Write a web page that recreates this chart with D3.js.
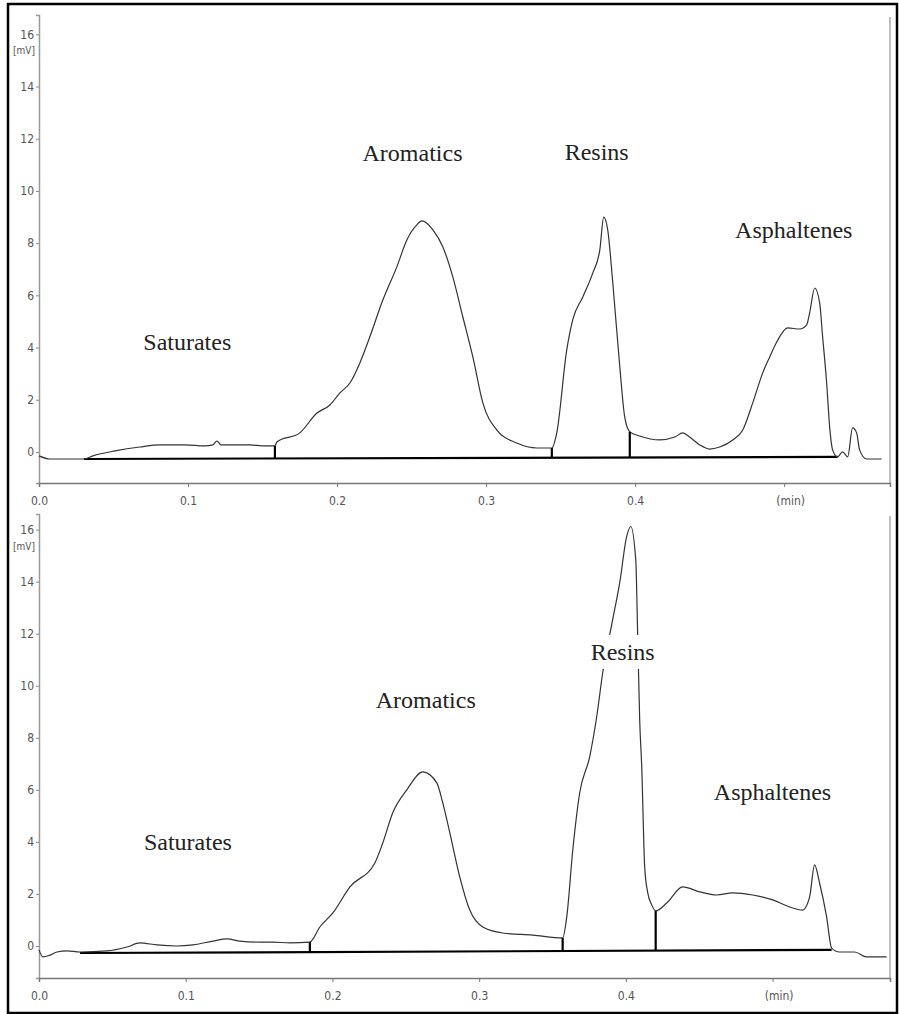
<!DOCTYPE html>
<html>
<head>
<meta charset="utf-8">
<script src="https://cdn.jsdelivr.net/npm/d3@7/dist/d3.min.js"></script>
<style>
  html, body { margin: 0; padding: 0; background: #fff; }
  svg { display: block; }
  .tick text { font-family: "Liberation Sans Narrow", "DejaVu Sans Condensed", "Liberation Sans", sans-serif; font-stretch: condensed; fill: #555; }
</style>
</head>
<body>
<svg id="chart" width="899" height="1014"></svg>
<script>
// ---------- DATA ----------
// Top chromatogram (time in min, signal in mV)
const topTime = [0.000,0.0074,0.0302,0.0362,0.0510,0.0677,0.0812,0.0979,0.1113,0.1167,0.1194,0.1221,0.1348,0.1415,0.1516,0.1583,0.1596,0.1750,0.1865,0.1952,0.2019,0.2086,0.2153,0.2220,0.2307,0.2401,0.2468,0.2535,0.2569,0.2643,0.2710,0.2777,0.2844,0.2911,0.2978,0.3072,0.3206,0.3340,0.3441,0.3474,0.3541,0.3581,0.3649,0.3716,0.3763,0.3789,0.3816,0.3850,0.3897,0.3930,0.3964,0.4031,0.4165,0.4266,0.4319,0.4366,0.4433,0.4500,0.4567,0.4655,0.4722,0.4789,0.4856,0.4903,0.4950,0.5023,0.5104,0.5151,0.5171,0.5205,0.5238,0.5258,0.5285,0.5305,0.5325,0.5358,0.5392,0.5426,0.5459,0.5486,0.5506,0.5553,0.5654];
const topSignal = [-0.15,-0.27,-0.27,-0.15,0.04,0.19,0.27,0.27,0.23,0.27,0.42,0.27,0.27,0.27,0.23,0.23,0.38,0.73,1.49,1.80,2.26,2.64,3.41,4.41,5.82,7.09,8.12,8.70,8.85,8.51,7.85,6.70,5.17,3.64,1.88,0.84,0.34,0.15,0.15,0.73,3.91,5.06,5.94,6.86,7.74,9.00,8.51,6.48,3.26,1.34,0.77,0.61,0.46,0.57,0.73,0.57,0.27,0.11,0.19,0.46,0.84,1.88,3.03,3.64,4.21,4.75,4.71,4.87,5.33,6.28,5.71,4.41,2.64,0.96,0.08,-0.19,0.00,-0.19,0.92,0.73,0.08,-0.27,-0.27];
const topBaseline = { start: 0.0302, end: 0.5358, startVal: -0.27, endVal: -0.19 };
const topDividers = [0.1583, 0.3441, 0.3964];
const topLabels = ["Saturates", "Aromatics", "Resins", "Asphaltenes"];
const topLabelTime = [0.0995, 0.2506, 0.3742, 0.5064];
const topLabelVal = [4.20, 11.45, 11.50, 8.50];

// Bottom chromatogram
const botTime = [0.0000,0.0027,0.0075,0.0123,0.0191,0.0279,0.0463,0.0599,0.0688,0.0804,0.0940,0.1049,0.1185,0.1281,0.1369,0.1505,0.1594,0.1710,0.1846,0.1914,0.2003,0.2119,0.2289,0.2343,0.2411,0.2507,0.2616,0.2711,0.2752,0.2800,0.2868,0.2936,0.3025,0.3161,0.3365,0.3569,0.3597,0.3638,0.3685,0.3753,0.3801,0.3842,0.3910,0.3958,0.4005,0.4033,0.4067,0.4081,0.4094,0.4108,0.4128,0.4149,0.4176,0.4203,0.4278,0.4387,0.4503,0.4619,0.4728,0.4864,0.5000,0.5116,0.5204,0.5252,0.5286,0.5320,0.5368,0.5402,0.5456,0.5559,0.5640,0.5777];
const botSignal = [-0.15,-0.42,-0.35,-0.23,-0.19,-0.23,-0.19,-0.04,0.12,0.04,0.00,0.04,0.19,0.27,0.19,0.15,0.15,0.12,0.15,0.73,1.27,2.27,3.19,3.96,5.12,6.00,6.69,6.27,5.50,4.35,2.65,1.38,0.73,0.50,0.42,0.31,1.12,3.69,5.88,7.27,8.81,10.50,12.54,13.96,15.73,16.12,14.85,11.77,8.69,6.88,3.04,2.04,1.58,1.35,1.65,2.27,2.08,1.96,2.04,1.96,1.77,1.50,1.38,1.88,3.12,2.42,1.12,-0.08,-0.23,-0.23,-0.42,-0.42];
const botBaseline = { start: 0.0279, end: 0.5402, startVal: -0.27, endVal: -0.15 };
const botDividers = [0.1846, 0.3569, 0.4203];
const botLabels = ["Saturates", "Aromatics", "Resins", "Asphaltenes"];
const botLabelTime = [0.1015, 0.2636, 0.3978, 0.4999];
const botLabelVal = [4.00, 9.45, 11.30, 5.90];

const yTicks = [0, 2, 4, 6, 8, 10, 12, 14, 16];
const xTicks = [0.0, 0.1, 0.2, 0.3, 0.4, 0.5];
const xTickLabels = ["0.0", "0.1", "0.2", "0.3", "0.4", "(min)"];
const yUnit = "[mV]";

// ---------- DRAW ----------
const svg = d3.select("#chart");

// outer frame
svg.append("rect").attr("x", 8).attr("y", 4).attr("width", 889).attr("height", 1009)
  .attr("fill", "#fff").attr("stroke", "#000").attr("stroke-width", 2.5);

function drawPanel(cfg) {
  const x = d3.scaleLinear().domain(cfg.xDomain).range([39, 890]);
  const y = d3.scaleLinear().domain(cfg.yDomain).range([cfg.bottom, cfg.top]);
  const g = svg.append("g");

  // right border of plot
  g.append("line").attr("x1", 890).attr("x2", 890).attr("y1", cfg.top + 2).attr("y2", cfg.bottom)
    .attr("stroke", "#aaa").attr("stroke-width", 1.5);

  // y axis
  const yAxis = g.append("g").attr("transform", "translate(39,0)")
    .call(d3.axisLeft(y).tickValues(yTicks).tickSize(3).tickPadding(2).tickFormat(d3.format("d")));
  yAxis.select(".domain").attr("stroke", "#999").attr("stroke-width", 1.5);
  yAxis.selectAll(".tick line").attr("stroke", "#888");
  yAxis.selectAll(".tick text").attr("font-size", 12);

  // x axis
  const xAxis = g.append("g").attr("transform", `translate(0,${cfg.bottom})`)
    .call(d3.axisBottom(x).tickValues(xTicks).tickSize(4).tickPadding(9)
      .tickFormat((d, i) => xTickLabels[i]));
  xAxis.select(".domain").attr("stroke", "#777").attr("stroke-width", 1.5);
  xAxis.selectAll(".tick line").attr("stroke", "#777");
  xAxis.selectAll(".tick text").attr("font-size", 12)
    .attr("dx", (d, i) => i === xTickLabels.length - 1 ? 6 : 0);

  // unit label
  g.append("text").attr("x", 24).attr("y", y(16) + 20).attr("text-anchor", "middle")
    .attr("font-family", "'Liberation Sans Narrow', 'DejaVu Sans Condensed', sans-serif")
    .attr("font-size", 10).attr("fill", "#555").text(yUnit);

  // baseline
  const bl = cfg.baseline;
  const blVal = t => bl.startVal + (bl.endVal - bl.startVal) * (t - bl.start) / (bl.end - bl.start);
  g.append("line").attr("x1", x(bl.start)).attr("x2", x(bl.end))
    .attr("y1", y(bl.startVal)).attr("y2", y(bl.endVal))
    .attr("stroke", "#000").attr("stroke-width", 2.2);

  // trace
  const pts = cfg.time.map((t, i) => [t, cfg.signal[i]]);
  g.append("path").datum(pts)
    .attr("d", d3.line().curve(d3.curveMonotoneX).x(d => x(d[0])).y(d => y(d[1])))
    .attr("fill", "none").attr("stroke", "#333").attr("stroke-width", 1.2);

  // dividers
  const interp = t => {
    for (let i = 1; i < cfg.time.length; i++) {
      if (cfg.time[i] >= t) {
        const f = (t - cfg.time[i - 1]) / (cfg.time[i] - cfg.time[i - 1]);
        return cfg.signal[i - 1] + f * (cfg.signal[i] - cfg.signal[i - 1]);
      }
    }
    return 0;
  };
  g.selectAll(".divider").data(cfg.dividers).enter().append("line")
    .attr("x1", d => x(d)).attr("x2", d => x(d))
    .attr("y1", d => y(blVal(d))).attr("y2", d => y(interp(d)))
    .attr("stroke", "#000").attr("stroke-width", 2.2);

  // peak labels with white backing boxes
  const lg = g.selectAll(".lbl").data(cfg.labels).enter().append("g")
    .attr("transform", (d, i) => `translate(${x(cfg.labelTime[i])},${y(cfg.labelVal[i])})`);
  const bg = lg.append("rect").attr("fill", "#fff");
  const tx = lg.append("text")
    .attr("text-anchor", "middle").attr("dominant-baseline", "central")
    .attr("font-family", "'Liberation Serif', 'Times New Roman', serif")
    .attr("font-size", 24).attr("fill", "#222").text(d => d);
  tx.each(function (d, i) {
    const b = this.getBBox();
    d3.select(bg.nodes()[i])
      .attr("x", b.x - 8).attr("y", b.y - 4)
      .attr("width", b.width + 16).attr("height", b.height + 8);
  });
}

drawPanel({
  xDomain: [0, 0.571], yDomain: [-1.19, 16.74], top: 15, bottom: 483,
  time: topTime, signal: topSignal, baseline: topBaseline, dividers: topDividers,
  labels: topLabels, labelTime: topLabelTime, labelVal: topLabelVal
});
drawPanel({
  xDomain: [0, 0.58], yDomain: [-1.23, 16.6], top: 514, bottom: 978,
  time: botTime, signal: botSignal, baseline: botBaseline, dividers: botDividers,
  labels: botLabels, labelTime: botLabelTime, labelVal: botLabelVal
});
</script>
</body>
</html>
